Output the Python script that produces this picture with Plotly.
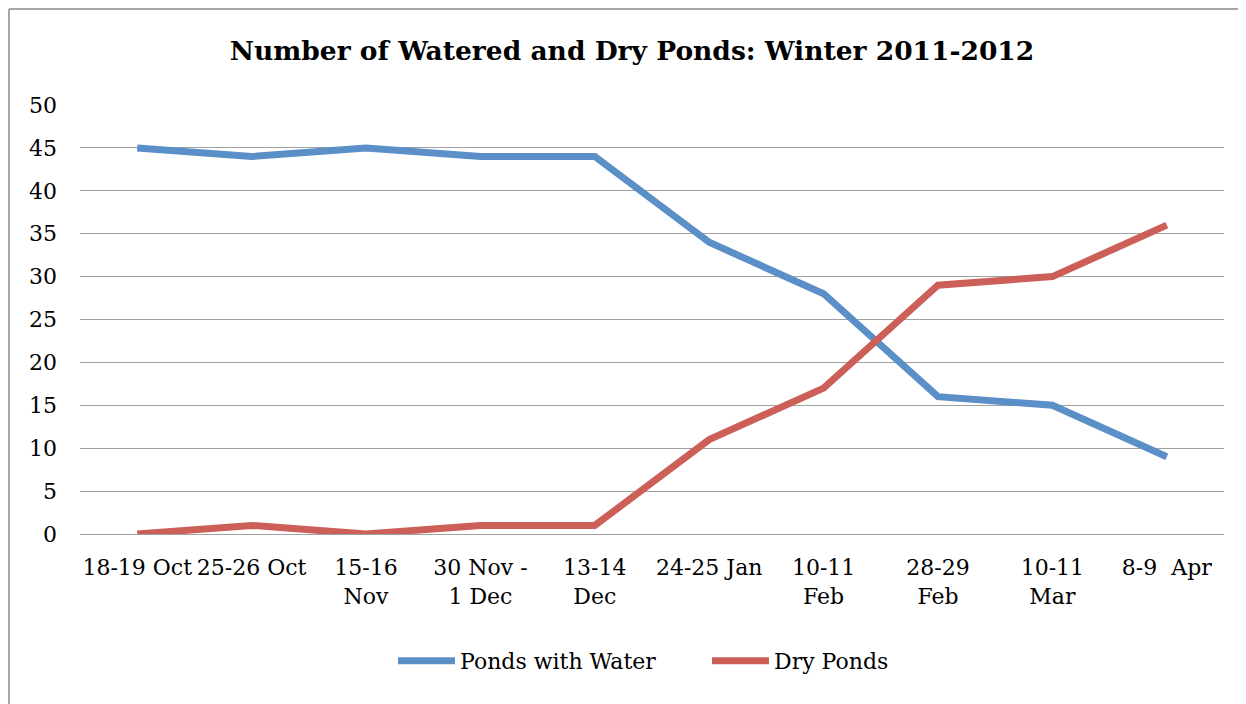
import plotly.graph_objects as go

# survey dates (tick labels) and pond counts
dates = ["18-19 Oct", "25-26 Oct", "15-16<br>Nov", "30 Nov -<br>1 Dec", "13-14<br>Dec",
         "24-25 Jan", "10-11<br>Feb", "28-29<br>Feb", "10-11<br>Mar", "8-9  Apr"]
ponds_with_water = [45, 44, 45, 44, 44, 34, 28, 16, 15, 9]
dry_ponds = [0, 1, 0, 1, 1, 11, 17, 29, 30, 36]

font_family = "DejaVu Serif, serif"
blue = "#5B8FC8"
red = "#CC5F58"

# page has an 8px body margin, so the figure is sized to fit inside the window
W, H = 1238, 696
L, R, T, B = 72, 22, 97, 170
plot_w, plot_h = W - L - R, H - T - B

fig = go.Figure()
fig.add_trace(go.Scatter(x=dates, y=ponds_with_water, mode="lines", name="Ponds with Water",
                         line=dict(color=blue, width=7)))
fig.add_trace(go.Scatter(x=dates, y=dry_ponds, mode="lines", name="Dry Ponds",
                         line=dict(color=red, width=7)))

fig.update_layout(
    width=W, height=H,
    margin=dict(l=L, r=R, t=T, b=B, autoexpand=False),
    paper_bgcolor="white", plot_bgcolor="white",
    font=dict(family=font_family, size=22, color="black"),
    title=dict(text="<b>Number of Watered and Dry Ponds: Winter 2011-2012</b>",
               x=(632 - 8) / W, xanchor="center", y=1 - (51 - 8) / H, yanchor="middle",
               font=dict(size=26.5, family=font_family)),
    showlegend=True,
    legend=dict(orientation="h", x=(393 - 8 - L) / plot_w, xanchor="left",
                y=(526 - 653) / plot_h, yanchor="middle",
                font=dict(size=22), itemwidth=57, entrywidth=242, entrywidthmode="pixels",
                traceorder="normal"),
)

fig.update_xaxes(type="category", range=[-0.5, 9.5], showgrid=False, showline=False,
                 ticks="", zeroline=False, automargin=False, ticklabelstandoff=18,
                 tickfont=dict(size=22))
fig.update_yaxes(range=[0, 50], dtick=5, showgrid=True, gridcolor="#A0A0A0", gridwidth=1.3,
                 zeroline=True, zerolinecolor="#A0A0A0", zerolinewidth=1.3, automargin=False,
                 showline=False, ticks="", ticklabelstandoff=22, tickfont=dict(size=22))

# outer chart border (left and top edges; the rest runs off the page)
x_left = (1 - L) / plot_w
y_top = 1 + (T - 1) / plot_h
fig.add_shape(type="line", xref="paper", yref="paper",
              x0=x_left, x1=x_left, y0=y_top, y1=-(B + 20) / plot_h,
              line=dict(color="#A6A6A6", width=2), layer="below")
fig.add_shape(type="line", xref="paper", yref="paper",
              x0=x_left, x1=(W + 20 - L) / plot_w, y0=y_top, y1=y_top,
              line=dict(color="#A6A6A6", width=2), layer="below")

fig.write_html("out.html")
